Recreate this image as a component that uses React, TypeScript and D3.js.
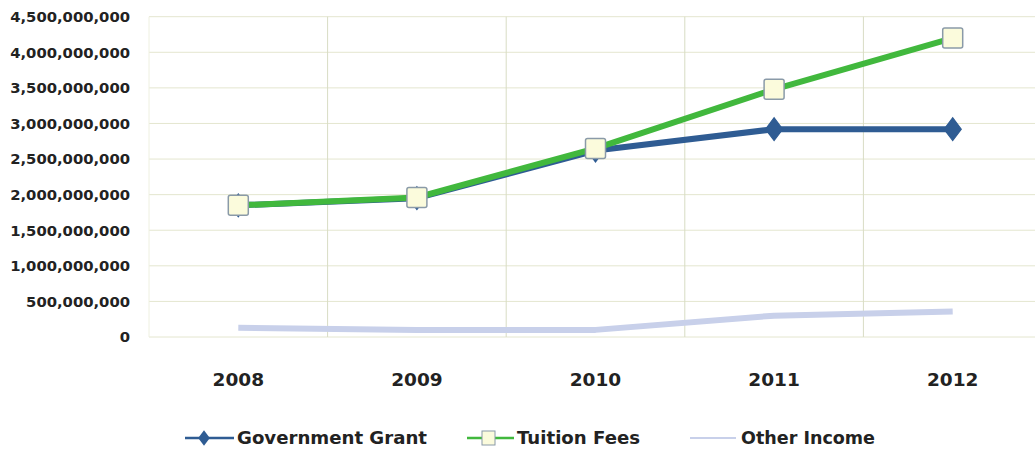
import React from "react";
import * as d3 from "d3";

const years = ["2008", "2009", "2010", "2011", "2012"];
const governmentGrant = [1850000000, 1950000000, 2620000000, 2920000000, 2920000000];
const tuitionFees = [1850000000, 1960000000, 2650000000, 3480000000, 4200000000];
const otherIncome = [130000000, 100000000, 100000000, 300000000, 360000000];
const yTicks = [0, 500000000, 1000000000, 1500000000, 2000000000, 2500000000, 3000000000, 3500000000, 4000000000, 4500000000];
const legendLabels = ["Government Grant", "Tuition Fees", "Other Income"];

const W = 1035;
const H = 454;
const left = 149;
const right = 1042;
const top = 16.7;
const bottom = 337;

export default function App() {
  const x = d3.scaleBand<string>().domain(years).range([left, right]);
  const y = d3.scaleLinear().domain([0, 4500000000]).range([bottom, top]);
  const cx = (d: string) => (x(d) as number) + x.bandwidth() / 2;
  const fmt = d3.format(",");

  const line = d3
    .line<number>()
    .x((_, i) => cx(years[i]))
    .y((v) => y(v));

  const font = "Tahoma, 'DejaVu Sans', Verdana, sans-serif";

  return (
    <svg
      width={W}
      height={H}
      style={{ position: "absolute", left: 0, top: 0, background: "#fff" }}
      fontFamily={font}
    >
      <rect x={0} y={0} width={W} height={H} fill="#fff" />
      {yTicks.map((t) => (
        <line key={"h" + t} x1={left} x2={right} y1={y(t)} y2={y(t)} stroke="#e4e6cf" strokeWidth={1} />
      ))}
      {years.slice(1).map((yr) => (
        <line key={"v" + yr} x1={x(yr) as number} x2={x(yr) as number} y1={top} y2={bottom} stroke="#d8dcc4" strokeWidth={1} />
      ))}
      <line x1={left} x2={left} y1={top} y2={bottom} stroke="#eef0e0" strokeWidth={1} />
      {yTicks.map((t) => (
        <text
          key={"yl" + t}
          x={130}
          y={y(t)}
          dy="0.36em"
          textAnchor="end"
          fontSize={14.8}
          fontWeight="bold"
          fill="#222"
        >
          {fmt(t)}
        </text>
      ))}
      {years.map((yr) => (
        <text key={"xl" + yr} x={cx(yr)} y={386} textAnchor="middle" fontSize={18.5} fontWeight="bold" fill="#222">
          {yr}
        </text>
      ))}
      <path d={line(otherIncome) || ""} fill="none" stroke="#c8d0ea" strokeWidth={6} strokeLinejoin="round" />
      <path d={line(governmentGrant) || ""} fill="none" stroke="#2f5c93" strokeWidth={6} strokeLinejoin="round" />
      {governmentGrant.map((v, i) => (
        <path
          key={"gd" + i}
          d={d3.symbol(d3.symbolDiamond, 150)() || ""}
          transform={`translate(${cx(years[i])},${y(v)}) scale(1.3,1)`}
          fill="#2f5c93"
          stroke="#2f5c93"
        />
      ))}
      <path d={line(tuitionFees) || ""} fill="none" stroke="#41b83d" strokeWidth={6} strokeLinejoin="round" />
      {tuitionFees.map((v, i) => (
        <rect
          key={"ts" + i}
          x={cx(years[i]) - 10}
          y={y(v) - 10}
          width={20}
          height={20}
          rx={2}
          fill="#fbfbdc"
          stroke="#8a9aa8"
          strokeWidth={1.5}
        />
      ))}
      <g fontSize={17.5} fontWeight="bold" fill="#222">
        <line x1={185} x2={234} y1={438} y2={438} stroke="#2f5c93" strokeWidth={2.5} />
        <path d={d3.symbol(d3.symbolDiamond, 70)() || ""} transform="translate(204,438) scale(1.3,1)" fill="#2f5c93" />
        <text x={237} y={438} dy="0.36em" textLength={190} lengthAdjust="spacingAndGlyphs">{legendLabels[0]}</text>
        <line x1={467} x2={514} y1={438} y2={438} stroke="#41b83d" strokeWidth={2.5} />
        <rect x={482} y={431} width={13} height={14} fill="#fbfbdc" stroke="#8a9aa8" strokeWidth={1} />
        <text x={517} y={438} dy="0.36em" textLength={123} lengthAdjust="spacingAndGlyphs">{legendLabels[1]}</text>
        <line x1={690} x2={736} y1={438} y2={438} stroke="#c8d0ea" strokeWidth={2} />
        <text x={741} y={438} dy="0.36em" textLength={134} lengthAdjust="spacingAndGlyphs">{legendLabels[2]}</text>
      </g>
    </svg>
  );
}
